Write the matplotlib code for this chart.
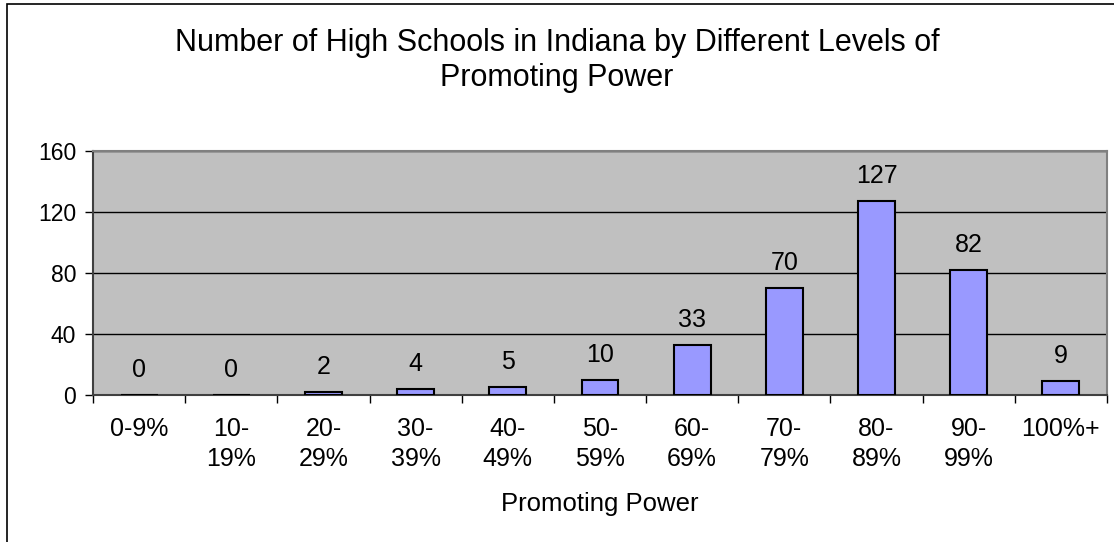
import matplotlib
matplotlib.use("Agg")
import matplotlib.pyplot as plt
from matplotlib.patches import Rectangle
import numpy as np

categories = ["0-9%", "10-\n19%", "20-\n29%", "30-\n39%", "40-\n49%", "50-\n59%",
              "60-\n69%", "70-\n79%", "80-\n89%", "90-\n99%", "100%+"]
values = [0, 0, 2, 4, 5, 10, 33, 70, 127, 82, 9]
yticks = [0, 40, 80, 120, 160]
title = "Number of High Schools in Indiana by Different Levels of\nPromoting Power"
xlabel = "Promoting Power"

plt.rcParams['font.family'] = ['Liberation Sans', 'DejaVu Sans']

W, H = 1114, 542
fig = plt.figure(figsize=(W / 100, H / 100), dpi=100)
fig.patch.set_facecolor("white")

# outer chart border
fig.patches.append(Rectangle((7 / W, -0.05), 1.2, 1 - 4 / H + 0.05, transform=fig.transFigure,
                             fill=False, edgecolor="#000000", linewidth=1.2, zorder=0))

ax = fig.add_axes([93 / W, (H - 395) / H, (1107 - 93) / W, (395 - 151) / H])
ax.set_facecolor("#C0C0C0")

x = np.arange(len(categories))
ax.bar(x, values, width=0.4, color="#9999FF", edgecolor="black", linewidth=1.5, zorder=3)

for xi, v in zip(x, values):
    ax.annotate(str(v), (xi, v), xytext=(0, 13), textcoords="offset points",
                ha="center", va="baseline", fontsize=18, color="black", zorder=4)

ax.set_xlim(-0.5, len(categories) - 0.5)
ax.set_ylim(0, 160)
ax.set_yticks(yticks)
ax.set_yticklabels([str(t) for t in yticks], fontsize=16.5)
ax.yaxis.grid(True, color="black", linewidth=1.0, zorder=1)
ax.set_axisbelow(True)

ax.set_xticks(x)
ax.set_xticklabels(categories, fontsize=18, linespacing=1.3)
ax.set_xticks(np.arange(-0.5, len(categories), 1.0), minor=True)
ax.tick_params(axis="x", which="major", length=0, pad=16)
ax.tick_params(axis="x", which="minor", length=6, width=1, color="black", direction="out")
ax.tick_params(axis="y", which="major", length=6, width=1, color="black", direction="out", pad=6)

for s in ["left", "bottom"]:
    ax.spines[s].set_color("#404040")
    ax.spines[s].set_linewidth(1.5)
for s in ["top", "right"]:
    ax.spines[s].set_color("#808080")
    ax.spines[s].set_linewidth(1.5)

ax.set_xlabel(xlabel, fontsize=18.5, labelpad=15)

fig.text(0.5, 1 - 28 / H, title, ha="center", va="top", fontsize=22, linespacing=1.2)

fig.savefig("out.png", dpi=100)
